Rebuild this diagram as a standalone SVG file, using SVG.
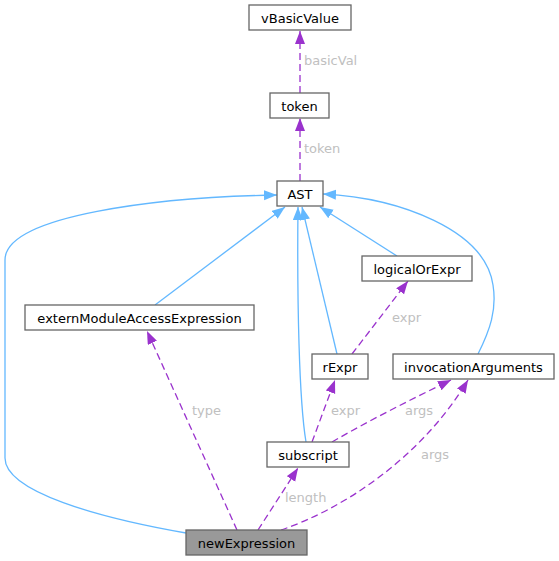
<svg xmlns="http://www.w3.org/2000/svg" width="559" height="561" viewBox="0 0 559 561">
<defs>
<style>
.node rect{fill:#ffffff;stroke:#666666;stroke-width:1.3}
.node.main rect{fill:#999999}
.node text{font-family:"DejaVu Sans",sans-serif;font-size:13px;fill:#000000;text-anchor:middle}
.inh{fill:none;stroke:#63b8ff;stroke-width:1.3}
.use{fill:none;stroke:#9a32cd;stroke-width:1.3;stroke-dasharray:7,4}
.lbl{font-family:"DejaVu Sans",sans-serif;font-size:13px;fill:#c0c0c0}
</style>
<marker id="ab" markerUnits="userSpaceOnUse" markerWidth="14" markerHeight="11" refX="13" refY="5" orient="auto" viewBox="0 0 14 11">
<path d="M0,0 L13,5 L0,10 z" fill="#63b8ff" stroke="none"/>
</marker>
<marker id="ap" markerUnits="userSpaceOnUse" markerWidth="14" markerHeight="11" refX="13" refY="5" orient="auto" viewBox="0 0 14 11">
<path d="M0,0 L13,5 L0,10 z" fill="#9a32cd" stroke="none"/>
</marker>
</defs>
<rect width="559" height="561" fill="#ffffff"/>
<g id="connectors">
<path class="use" marker-end="url(#ap)" d="M300,93 L300,31"/>
<text class="lbl" x="304" y="65">basicVal</text>
<path class="use" marker-end="url(#ap)" d="M300,181 L300,118"/>
<text class="lbl" x="304" y="153">token</text>
<path class="inh" marker-end="url(#ab)" d="M155,305 L285,207"/>
<path class="inh" marker-end="url(#ab)" d="M186,533 C100,518 5,492 5,458 L5,260 C5,215 160,197 277,195"/>
<path class="inh" marker-end="url(#ab)" d="M397,256 L320,207"/>
<path class="inh" marker-end="url(#ab)" d="M337,354 L302,207"/>
<path class="inh" marker-end="url(#ab)" d="M306,442 C299,400 297,300 298,207"/>
<path class="inh" marker-end="url(#ab)" d="M478,354 C490,330 497,310 493,285 C485,230 400,198 323,194"/>
<path class="use" marker-end="url(#ap)" d="M352,354 L408,281"/>
<text class="lbl" x="392" y="322">expr</text>
<path class="use" marker-end="url(#ap)" d="M312,442 L335,380"/>
<text class="lbl" x="331" y="415">expr</text>
<path class="use" marker-end="url(#ap)" d="M332,442 C370,420 410,400 451,380"/>
<text class="lbl" x="405" y="415">args</text>
<path class="use" marker-end="url(#ap)" d="M281,530 C340,510 420,460 468,380"/>
<text class="lbl" x="421" y="459">args</text>
<path class="use" marker-end="url(#ap)" d="M237,530 L147,331"/>
<text class="lbl" x="192" y="415">type</text>
<path class="use" marker-end="url(#ap)" d="M258,530 L298,468"/>
<text class="lbl" x="285" y="502">length</text>
</g>
<g id="vBasicValue" class="node"><rect x="249" y="5" width="102" height="25"/><text x="300" y="22.5">vBasicValue</text></g>
<g id="token" class="node"><rect x="270" y="93" width="59" height="25"/><text x="299.5" y="110.5">token</text></g>
<g id="AST" class="node"><rect x="277" y="181" width="46" height="25"/><text x="300" y="198.5">AST</text></g>
<g id="logicalOrExpr" class="node"><rect x="362" y="256" width="110" height="25"/><text x="417" y="273.5">logicalOrExpr</text></g>
<g id="externModuleAccessExpression" class="node"><rect x="25" y="305" width="229" height="25"/><text x="139.5" y="322.5">externModuleAccessExpression</text></g>
<g id="rExpr" class="node"><rect x="312" y="354" width="56" height="25"/><text x="340" y="371.5">rExpr</text></g>
<g id="invocationArguments" class="node"><rect x="393" y="354" width="161" height="25"/><text x="473.5" y="371.5">invocationArguments</text></g>
<g id="subscript" class="node"><rect x="267" y="442" width="82" height="25"/><text x="308" y="459.5">subscript</text></g>
<g id="newExpression" class="node main"><rect x="186" y="530" width="121" height="25"/><text x="246.5" y="547.5">newExpression</text></g>
</svg>
